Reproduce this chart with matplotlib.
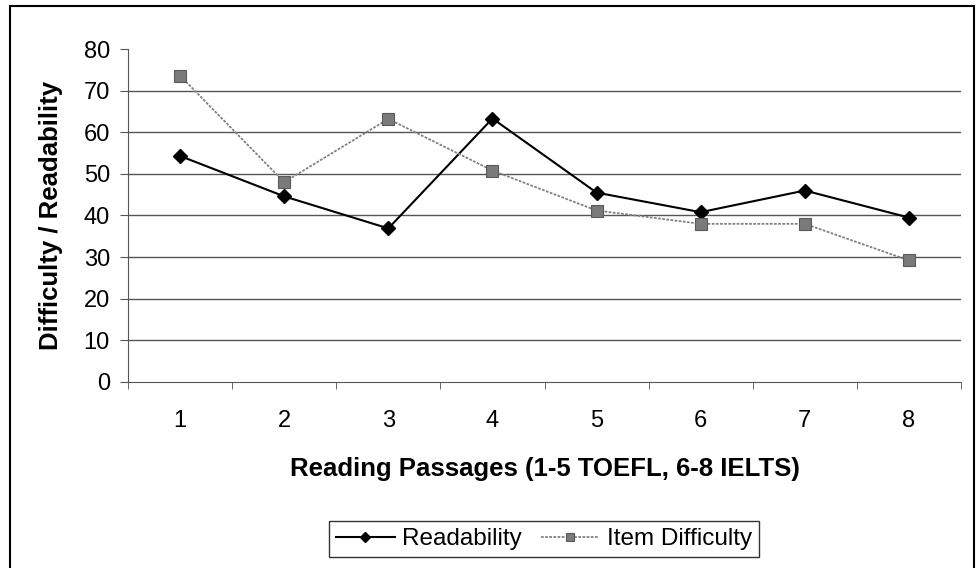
import numpy as np
import matplotlib
matplotlib.use("Agg")
import matplotlib.pyplot as plt
from matplotlib.patches import Rectangle

plt.rcParams["font.family"] = ["Liberation Sans", "DejaVu Sans"]

passages = [1, 2, 3, 4, 5, 6, 7, 8]
readability = [54.3, 44.6, 36.9, 63.3, 45.5, 40.8, 46.0, 39.5]
item_difficulty = [73.6, 48.0, 63.2, 50.8, 41.2, 38.0, 38.0, 29.2]
yticks = [0, 10, 20, 30, 40, 50, 60, 70, 80]

fig = plt.figure(figsize=(9.77, 5.68), dpi=100)
ax = fig.add_axes([128/977, 1 - 382/568, 833/977, 333/568])

# outer chart border
fig.patches.append(Rectangle((10/977, -0.01), 964/977, 1 - 6/568 + 0.01,
                             transform=fig.transFigure, fill=False,
                             edgecolor="black", linewidth=1.5))

x = np.arange(len(passages))
ax.plot(x, readability, '-', color="black", linewidth=1.5,
        marker='D', ms=7, mfc="black", mec="black", label="Readability")
ax.plot(x, item_difficulty, linestyle=(0, (1.5, 0.8)), color="#808080", linewidth=1.3,
        marker='s', ms=8, mfc="#7a7a7a", mec="#5a5a5a", mew=0.8, label="Item Difficulty")

for v in yticks[1:-1]:
    ax.axhline(v, color="#555555", linewidth=1.0, zorder=0)

ax.set_xlim(-0.5, len(passages) - 0.5)
ax.set_ylim(0, 80)
ax.set_yticks(yticks)
ax.set_xticks(x)
ax.set_xticklabels([str(p) for p in passages])
ax.set_xticks(np.arange(-0.5, len(passages)), minor=True)
ax.tick_params(axis="x", which="major", length=0, pad=20, labelsize=17)
ax.tick_params(axis="x", which="minor", length=5, direction="out", color="#555555")
ax.tick_params(axis="y", length=6, direction="out", pad=7, labelsize=17, color="#555555")

for s in ["top", "right"]:
    ax.spines[s].set_visible(False)
ax.spines["left"].set_color("#555555")
ax.spines["bottom"].set_color("#555555")

ax.set_xlabel("Reading Passages (1-5 TOEFL, 6-8 IELTS)", fontsize=18.5, fontweight="bold")
ax.xaxis.set_label_coords(0.5, -0.225)
ax.set_ylabel("Difficulty / Readability", fontsize=18.5, fontweight="bold")
ax.yaxis.set_label_coords(-0.078, 0.5)

leg = fig.legend(loc="center", bbox_to_anchor=(544/977, 1 - 539/568), ncol=2,
                 fontsize=17.5, frameon=True, fancybox=False, edgecolor="black",
                 handlelength=2.4, handletextpad=0.3, columnspacing=0.8,
                 borderpad=0.3, markerscale=0.8)
leg.get_frame().set_linewidth(1.0)

fig.savefig("out.png", dpi=100)
